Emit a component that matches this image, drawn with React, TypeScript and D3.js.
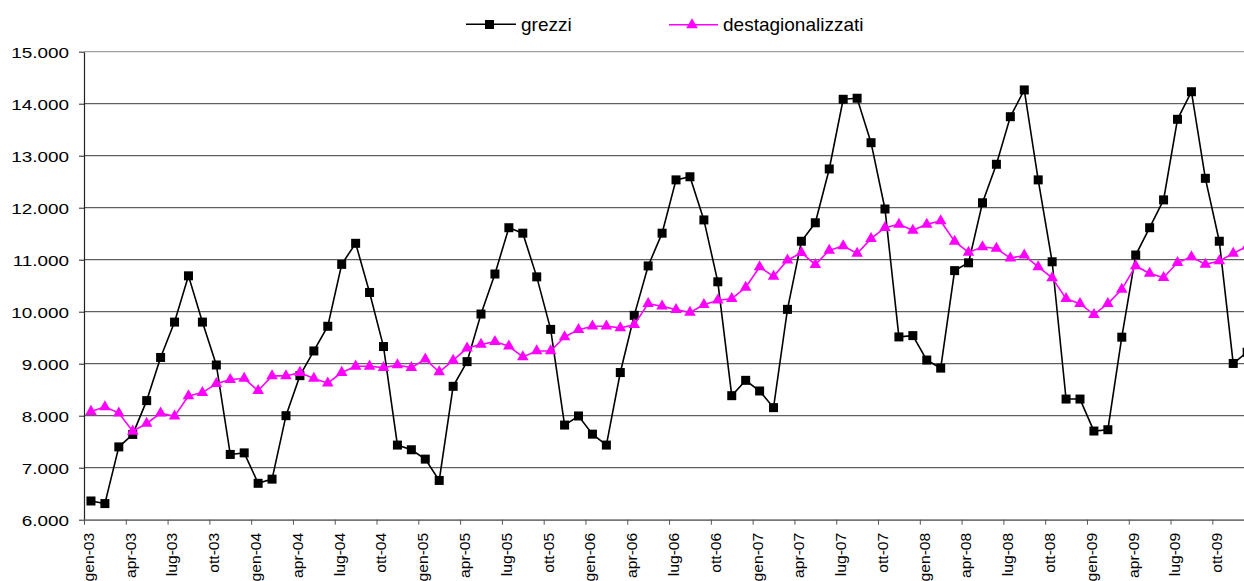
import { useEffect, useRef } from "react";
import * as d3 from "d3";

const months = ["gen", "feb", "mar", "apr", "mag", "giu", "lug", "ago", "set", "ott", "nov", "dic"];
const years = ["03", "04", "05", "06", "07", "08", "09"];
const categories = years.flatMap((y) => months.map((m) => `${m}-${y}`));

// serie grezza (valori mensili)
const grezzi = [
  6360, 6310, 7400, 7640, 8290, 9120, 9800, 10690, 9800, 8975, 7255, 7285,
  6700, 6780, 8000, 8770, 9245, 9720, 10910, 11315, 10370, 9330, 7435, 7345,
  7165, 6755, 8565, 9040, 9955, 10725, 11615, 11510, 10670, 9660, 7820, 7995,
  7645, 7435, 8830, 9930, 10880, 11510, 12535, 12595, 11765, 10575, 8385, 8680,
  8475, 8155, 10045, 11355, 11710, 12745, 14085, 14105, 13250, 11975, 9515, 9540,
  9070, 8915, 10790, 10940, 12095, 12835, 13750, 14265, 12535, 10960, 8320, 8320,
  7705, 7730, 9510, 11090, 11615, 12150, 13700, 14230, 12565, 11355, 9005, 9220,
];

// serie destagionalizzata
const destagionalizzati = [
  8080, 8170, 8050, 7700, 7850, 8050, 7990, 8380, 8445, 8615, 8695, 8715,
  8480, 8765, 8765, 8830, 8715, 8625, 8830, 8950, 8950, 8925, 8975, 8925,
  9085, 8840, 9065, 9300, 9370, 9425, 9335, 9130, 9245, 9245, 9515, 9655,
  9720, 9720, 9690, 9750, 10155, 10105, 10040, 9985, 10135, 10220, 10250, 10465,
  10860, 10680, 10990, 11135, 10905, 11180, 11265, 11120, 11405, 11615, 11680, 11565,
  11680, 11745, 11350, 11140, 11245, 11215, 11030, 11085, 10860, 10650, 10250, 10155,
  9945, 10155, 10430, 10880, 10735, 10655, 10945, 11055, 10910, 10975, 11120, 11260,
];

const yTicks = [6000, 7000, 8000, 9000, 10000, 11000, 12000, 13000, 14000, 15000];

const FONT = "'Liberation Sans', Arial, sans-serif";

export default function App() {
  const svgRef = useRef<SVGSVGElement | null>(null);

  useEffect(() => {
    if (!svgRef.current) return;
    const svg = d3.select(svgRef.current);
    svg.selectAll("*").remove();

    const left = 84;
    const step = 13.93;
    const right = left + categories.length * step;
    const top = 51.7;
    const bottom = 519.7;

    const x = d3.scaleBand<string>().domain(categories).range([left, right]);
    const xIdx = d3.scaleLinear().domain([0, categories.length]).range([left, right]);
    const y = d3.scaleLinear().domain([6000, 15000]).range([bottom, top]);

    const it = d3.formatLocale({ decimal: ",", thousands: ".", grouping: [3], currency: ["€", ""] });
    const fmt = it.format(",");

    const cx = (i: number) => (x(categories[i]) as number) + x.bandwidth() / 2;

    // gridlines
    svg
      .append("g")
      .selectAll("line")
      .data(yTicks.filter((d) => d > 6000))
      .join("line")
      .attr("x1", left)
      .attr("x2", 1260)
      .attr("y1", (d) => y(d))
      .attr("y2", (d) => y(d))
      .attr("stroke", (d) => (d === 15000 ? "#8a8a8a" : "#3a3a3a"))
      .attr("stroke-width", 1);

    // y axis
    const gy = svg
      .append("g")
      .attr("transform", `translate(${left},0)`)
      .call(d3.axisLeft(y).tickValues(yTicks).tickSize(5).tickSizeOuter(0).tickFormat((d) => fmt(d as number)));
    gy.select(".domain").attr("stroke", "#222").attr("stroke-width", 1.2);
    gy.selectAll(".tick line").attr("stroke", "#222");
    gy.selectAll(".tick text")
      .attr("x", 0)
      .attr("dy", "0.36em")
      .attr("text-anchor", "end")
      .attr("transform", "translate(-15,0) scale(1.22,1)")
      .attr("font-family", FONT)
      .attr("font-size", 15.5)
      .attr("fill", "#000");

    // x axis
    const tickIdx = d3.range(0, categories.length, 3);
    const gx = svg
      .append("g")
      .attr("transform", `translate(0,${bottom})`)
      .call(d3.axisBottom(xIdx).tickValues(tickIdx).tickSize(5).tickSizeOuter(0).tickFormat((d) => categories[d as number]));
    gx.select(".domain").attr("stroke", "#777").attr("stroke-width", 1.8);
    gx.selectAll(".tick line").attr("stroke", "#555");
    gx.selectAll(".tick text")
      .attr("x", 0)
      .attr("y", 0)
      .attr("dy", "0.35em")
      .attr("text-anchor", "end")
      .attr("transform", "translate(4.5,13) rotate(-90) scale(1.12,1)")
      .attr("font-family", FONT)
      .attr("font-size", 14)
      .attr("fill", "#000");

    const line = d3
      .line<number>()
      .x((_, i) => cx(i))
      .y((d) => y(d));

    const tri = d3.symbol().type(d3.symbolTriangle).size(58);

    // grezzi
    svg
      .append("path")
      .datum(grezzi)
      .attr("d", line)
      .attr("fill", "none")
      .attr("stroke", "#000")
      .attr("stroke-width", 1.6);
    svg
      .append("g")
      .selectAll("rect")
      .data(grezzi)
      .join("rect")
      .attr("x", (_, i) => cx(i) - 4.5)
      .attr("y", (d) => y(d) - 4.5)
      .attr("width", 9)
      .attr("height", 9)
      .attr("fill", "#000");

    // destagionalizzati
    svg
      .append("path")
      .datum(destagionalizzati)
      .attr("d", line)
      .attr("fill", "none")
      .attr("stroke", "#ff00ff")
      .attr("stroke-width", 1.6);
    svg
      .append("g")
      .selectAll("path")
      .data(destagionalizzati)
      .join("path")
      .attr("d", tri)
      .attr("transform", (d, i) => `translate(${cx(i)},${y(d)})`)
      .attr("fill", "#ff00ff");

    // legend
    const lg = svg.append("g").attr("font-family", FONT).attr("font-size", 19);
    lg.append("line").attr("x1", 466).attr("x2", 516).attr("y1", 24.3).attr("y2", 24.3).attr("stroke", "#000").attr("stroke-width", 1.6);
    lg.append("rect").attr("x", 485).attr("y", 20).attr("width", 9).attr("height", 9).attr("fill", "#000");
    lg.append("text").attr("x", 521).attr("y", 30.5).text("grezzi");
    lg.append("line").attr("x1", 669).attr("x2", 718).attr("y1", 24.8).attr("y2", 24.8).attr("stroke", "#ff00ff").attr("stroke-width", 1.6);
    lg.append("path").attr("d", tri).attr("transform", "translate(692,25)").attr("fill", "#ff00ff");
    lg.append("text").attr("x", 723).attr("y", 30.5).text("destagionalizzati");
  }, []);

  return (
    <svg
      ref={svgRef}
      width={1244}
      height={581}
      style={{ position: "absolute", left: 0, top: 0, background: "#fff" }}
    />
  );
}
